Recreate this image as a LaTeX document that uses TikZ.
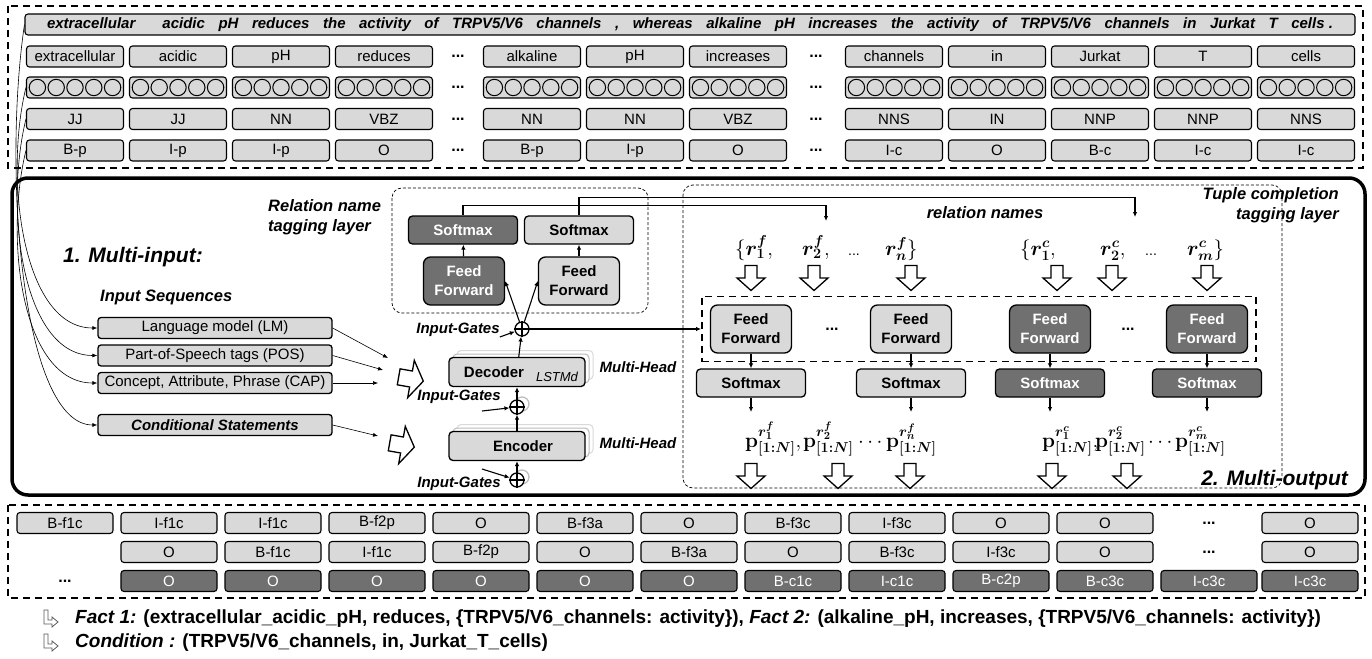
\documentclass[tikz,border=0pt]{standalone}
\usepackage[no-math]{fontspec}
\setmainfont{Liberation Sans}
\usepackage{bm}
\usetikzlibrary{arrows.meta,positioning,fit}

\definecolor{lightcell}{RGB}{217,217,217}
\definecolor{darkcell}{RGB}{112,112,112}

\tikzset{
	cell/.style={draw, line width=1.1pt, rounded corners=3pt, fill=lightcell, minimum width=97pt, minimum height=21pt, inner sep=0pt, font=\fontsize{15}{15}\selectfont},
	darkfill/.style={fill=darkcell, text=white},
	lightfill/.style={fill=lightcell},
	bitag/.style={font=\fontsize{16.5}{20}\selectfont\bfseries\itshape, inner sep=0pt},
	bigtag/.style={font=\fontsize{21}{21}\selectfont\bfseries\itshape, inner sep=0pt},
	smalltag/.style={font=\fontsize{15}{15}\selectfont\bfseries\itshape, inner sep=0pt},
	inbox/.style={draw, line width=1.3pt, rounded corners=3pt, fill=lightcell, minimum width=234pt, minimum height=21pt, inner sep=0pt, font=\fontsize{15}{15}\selectfont},
	smax/.style={draw, line width=1.3pt, rounded corners=4pt, fill=lightcell, minimum width=109pt, minimum height=28pt, inner sep=0pt, font=\fontsize{15}{15}\selectfont\bfseries},
	ff/.style={smax, minimum width=81pt, minimum height=48pt, rounded corners=7pt, align=center, font=\fontsize{15}{19}\selectfont\bfseries},
	coder/.style={smax, minimum width=136pt, minimum height=29pt},
	shade/.style={coder, draw=gray!55, fill=white, line width=1pt},
	gate/.style={draw, line width=1.3pt, circle, fill=white, minimum size=14pt, inner sep=0pt},
	dotsbold/.style={font=\fontsize{16}{16}\selectfont\bfseries, inner sep=0pt},
	rlabel/.style={font=\fontsize{22}{22}\selectfont, inner sep=0pt},
	facttext/.style={anchor=west, font=\fontsize{19}{19}\selectfont\bfseries, inner sep=0pt},
	arr/.style={line width=1.1pt, -{Latex[length=5pt,width=4.5pt]}},
	thin arr/.style={line width=0.6pt, -{Latex[length=5pt,width=4pt]}},
	outerdash/.style={line width=1.6pt, dash pattern=on 7pt off 5pt},
	layerdash/.style={line width=0.7pt, dash pattern=on 3pt off 2pt, rounded corners=10pt},
	hollow/.pic={\draw[line width=1.3pt, fill=white, line join=miter] (-6,-12.5) -- (6,-12.5) -- (6,0) -- (14,0) -- (0,12.5) -- (-14,0) -- (-6,0) -- cycle;},
	hook/.pic={\draw[line width=0.8pt, gray!70!black, line join=miter] (-6,-8) -- (-2,-8) -- (-2,2) -- (2,2) -- (2,-1) -- (8,4) -- (2,9) -- (2,6) -- (-6,6) -- cycle;}
}

\begin{document}
\begin{tikzpicture}[x=1pt, y=-1pt]
	\useasboundingbox (0,0) rectangle (1372,658);

	% sentence and token rows
	\draw[outerdash] (8,6) rectangle (1363,168);
	\node[cell, minimum width=1330pt, font=\fontsize{15}{15}\selectfont\bfseries\itshape] (sent) at (690,24.5) {\hbox to 1286pt{extracellular\hfill\hfill acidic\hfill pH\hfill reduces\hfill the\hfill activity\hfill of\hfill TRPV5/V6\hfill channels\hfill ,\hfill whereas\hfill alkaline\hfill pH\hfill increases\hfill the\hfill activity\hfill of\hfill TRPV5/V6\hfill channels\hfill in\hfill Jurkat\hfill T\hfill cells .}};
	\foreach \x/\word/\pos/\bio [count=\i] in {75/extracellular/JJ/B-p, 178/acidic/JJ/I-p, 281/pH/NN/I-p, 384/reduces/VBZ/O, 532/alkaline/NN/B-p, 635/pH/NN/I-p, 738/increases/VBZ/O, 894/channels/NNS/I-c, 997/in/IN/O, 1100/Jurkat/NNP/B-c, 1203/T/NNP/I-c, 1306/cells/NNS/I-c}{
		\node[cell] (w\i) at (\x,56.5) {\word};
		\node[cell] (e\i) at (\x,87.5) {};
		\foreach \d in {-37.6,-18.8,0,18.8,37.6}
			\draw[line width=1pt] (\x+\d,87.5) circle (8.2pt);
		\node[cell] (t\i) at (\x,119) {\pos};
		\node[cell] (b\i) at (\x,150.5) {\bio};
	}
	\foreach \x [count=\j] in {458,816}
		\foreach \y [count=\k] in {56.5,87.5,119,150.5}
			\node[dotsbold] (dots\j\k) at (\x,\y) {...};

	% multi-input side
	\draw[line width=3.5pt, rounded corners=16pt] (12,178) rectangle (1365,495);
	\node[bigtag, anchor=west] (minput) at (63,257) {1. Multi-input:};
	\node[bitag, anchor=west] (inseq) at (100,297) {Input Sequences};
	\node[inbox] (lm) at (215,328) {Language model (LM)};
	\node[inbox] (pos) at (215,355.5) {Part-of-Speech tags (POS)};
	\node[inbox] (cap) at (215,383) {Concept, Attribute, Phrase (CAP)};
	\node[inbox, font=\fontsize{15}{15}\selectfont\bfseries\itshape] (cond) at (215,425) {Conditional Statements};
	\draw[thin arr] (e1.west) .. controls +(-22,90) and +(-75,0) .. (lm.west);
	\draw[thin arr] (t1.west) .. controls +(-22,90) and +(-75,0) .. (pos.west);
	\draw[thin arr] (b1.west) .. controls +(-22,90) and +(-75,0) .. (cap.west);
	\draw[thin arr] (sent.west) .. controls +(-22,150) and +(-75,0) .. (cond.west);
	\coordinate (lmto) at (388,358);
	\coordinate (posto) at (383,370);
	\coordinate (capto) at (378,383);
	\coordinate (condto) at (378,436);
	\draw[thin arr] (lm.east) -- (lmto);
	\draw[thin arr] (pos.east) -- (posto);
	\draw[thin arr] (cap.east) -- (capto);
	\draw[thin arr] (cond.east) -- (condto);
	\pic[rotate=80, xscale=1.35] (harr1) at (411,379) {hollow};
	\pic[rotate=80, xscale=1.35] (harr2) at (402,445) {hollow};

	% encoder / decoder
	\node[shade, draw=gray!30] (decs2) at (525,365) {};
	\node[shade] (decs1) at (521,368.5) {};
	\node[coder] (dec) at (517,372) {};
	\node[font=\fontsize{15}{15}\selectfont\bfseries] (dectxt) at (494,372) {Decoder};
	\node[font=\fontsize{13}{13}\selectfont\itshape] (lstmd) at (557,377) {LSTMd};
	\node[shade, draw=gray!30] (encs2) at (525,439) {};
	\node[shade] (encs1) at (521,442.5) {};
	\node[coder] (enc) at (517,446) {\hspace{12pt}Encoder};
	\node[gate, draw=gray!50] (g2s) at (522,404) {};
	\node[gate] (g2) at (517,407) {};
	\node[gate, draw=gray!50] (g1s) at (522,477) {};
	\node[gate] (g1) at (517,480) {};
	\node[gate] (g3) at (522,329) {};
	\foreach \g in {g1,g2,g3}
		\draw[line width=1.1pt] (\g.north) -- (\g.south) (\g.west) -- (\g.east);
	\draw[arr] (g1) -- (enc);
	\draw[arr] (enc) -- (g2);
	\draw[arr] (g2) -- (dec);
	\draw[arr] (dec) -- (g3);
	\node[smalltag] (ig3) at (458,330) {Input-Gates};
	\node[smalltag] (ig2) at (459,397) {Input-Gates};
	\node[smalltag] (ig1) at (459,484) {Input-Gates};
	\coordinate (ig2a) at (482,411);
	\coordinate (ig1a) at (482,469);
	\draw[arr] (ig3.south east) -- (g3);
	\draw[arr] (ig2a) -- (g2);
	\draw[arr] (ig1a) -- (g1);
	\node[smalltag] (mh1) at (638,367) {Multi-Head};
	\node[smalltag] (mh2) at (638,443) {Multi-Head};

	% relation name tagging layer
	\draw[layerdash] (392,188) rectangle (648,313);
	\node[bitag, anchor=west, align=left] (rellbl) at (268,217) {Relation name\\tagging layer};
	\node[smax, darkfill] (rsd) at (463,230) {Softmax};
	\node[smax] (rsl) at (579,230) {Softmax};
	\node[ff, darkfill] (rfd) at (464,281) {Feed\\Forward};
	\node[ff] (rfl) at (579,281) {Feed\\Forward};
	\draw[arr] (g3) -- (rfd.east);
	\draw[arr] (g3) -- (rfl.west);
	\draw[arr] (rfd) -- (rsd);
	\draw[arr] (rfl) -- (rsl);
	\coordinate (rfin) at (826,221);
	\coordinate (rcin) at (1135,217);
	\draw[arr] (rsd.north) -- ++(0,-9.5) -| (rfin);
	\draw[arr] (rsl.north) -- ++(0,-17.5) -| (rcin);

	% tuple completion tagging layer
	\draw[layerdash] (683,185) rectangle (1282,488);
	\node[bitag, anchor=east, align=right] (tuplbl) at (1339,205) {Tuple completion\\tagging layer};
	\node[bitag] (rnames) at (985,213) {relation names};
	\node[rlabel, anchor=base west] (rf1) at (735,255) {$\{\bm{r}^{\bm{f}}_{\bm{1}},$};
	\node[rlabel, anchor=base west] (rf2) at (802,255) {$\bm{r}^{\bm{f}}_{\bm{2}},$};
	\node[rlabel, anchor=base west] (rfd) at (848,255) {\fontsize{14}{14}\selectfont ...};
	\node[rlabel, anchor=base west] (rfn) at (885,255) {$\bm{r}^{\bm{f}}_{\bm{n}}\}$};
	\node[rlabel, anchor=base west] (rc1) at (1020,255) {$\{\bm{r}^{\bm{c}}_{\bm{1}},$};
	\node[rlabel, anchor=base west] (rc2) at (1100,255) {$\bm{r}^{\bm{c}}_{\bm{2}},$};
	\node[rlabel, anchor=base west] (rcd) at (1145,255) {\fontsize{14}{14}\selectfont ...};
	\node[rlabel, anchor=base west] (rcm) at (1187,255) {$\bm{r}^{\bm{c}}_{\bm{m}}\}$};
	\foreach \x [count=\i] in {751,814,911,1057,1112,1207}
		\pic (ra\i) at (\x,278) {hollow};
	\foreach \x/\sty [count=\i] in {751/lightfill, 911/lightfill, 1050/darkfill, 1207/darkfill}{
		\node[ff, \sty] (f\i) at (\x,329) {Feed\\Forward};
		\node[smax, \sty] (s\i) at (\x,383) {Softmax};
		\coordinate (o\i) at (\x,412);
		\draw[arr] (f\i) -- (s\i);
		\draw[arr] (s\i) -- (o\i);
	}
	\node[draw, outerdash, fit=(f1)(f4), inner xsep=8pt, inner ysep=8pt] (grp) {};
	\node[dotsbold] (fdots1) at (832,329) {...};
	\node[dotsbold] (fdots2) at (1128,329) {...};
	\draw[arr] (g3) -- (grp.west);
	\node[rlabel, anchor=base west] (pf1) at (745,447) {$\mathbf{p}^{\bm{r}^{\bm{f}}_{\bm{1}}}_{\bm{[1:N]}},$};
	\node[rlabel, anchor=base west] (pf2) at (803,447) {$\mathbf{p}^{\bm{r}^{\bm{f}}_{\bm{2}}}_{\bm{[1:N]}}$};
	\node[rlabel, anchor=base west] (pfd) at (858,447) {$\cdots$};
	\node[rlabel, anchor=base west] (pfn) at (886,447) {$\mathbf{p}^{\bm{r}^{\bm{f}}_{\bm{n}}}_{\bm{[1:N]}}$};
	\node[rlabel, anchor=base west] (pc1) at (1042,447) {$\mathbf{p}^{\bm{r}^{\bm{c}}_{\bm{1}}}_{\bm{[1:N]}},$};
	\node[rlabel, anchor=base west] (pc2) at (1095,447) {$\mathbf{p}^{\bm{r}^{\bm{c}}_{\bm{2}}}_{\bm{[1:N]}}$};
	\node[rlabel, anchor=base west] (pcd) at (1148,447) {$\cdots$};
	\node[rlabel, anchor=base west] (pcm) at (1175,447) {$\mathbf{p}^{\bm{r}^{\bm{c}}_{\bm{m}}}_{\bm{[1:N]}}$};
	\foreach \x [count=\i] in {751,838,910,1052,1127}
		\pic (pa\i) at (\x,476) {hollow};
	\node[bigtag, anchor=east] (moutput) at (1348,480) {2. Multi-output};

	% output tag sequences
	\draw[outerdash] (8,505) rectangle (1365,598);
	\foreach \x/\lab [count=\i] in {65/B-f1c, 169/I-f1c, 273/I-f1c, 377/B-f2p, 481/O, 585/B-f3a, 689/O, 793/B-f3c, 897/I-f3c, 1001/O, 1105/O, 1310/O}
		\node[cell, minimum width=96pt] (ya\i) at (\x,523) {\lab};
	\foreach \x/\lab [count=\i] in {169/O, 273/B-f1c, 377/I-f1c, 481/B-f2p, 585/O, 689/B-f3a, 793/O, 897/B-f3c, 1001/I-f3c, 1105/O, 1310/O}
		\node[cell, minimum width=96pt] (yb\i) at (\x,552) {\lab};
	\foreach \x/\lab [count=\i] in {169/O, 273/O, 377/O, 481/O, 585/O, 689/O, 793/B-c1c, 897/I-c1c, 1001/B-c2p, 1105/B-c3c, 1209/I-c3c, 1310/I-c3c}
		\node[cell, darkfill, minimum width=96pt] (yc\i) at (\x,581) {\lab};
	\node[dotsbold] (ydots1) at (1209,523) {...};
	\node[dotsbold] (ydots2) at (1209,552) {...};
	\node[dotsbold] (ydots3) at (65,581) {...};

	% extracted tuples
	\pic (hk1) at (50,618) {hook};
	\pic (hk2) at (50,642) {hook};
	\node[facttext] (facts) at (75,619) {\textit{Fact 1:} (extracellular\_acidic\_pH, reduces, \{TRPV5/V6\_channels: activity\}), \textit{Fact 2:} (alkaline\_pH, increases, \{TRPV5/V6\_channels: activity\})};
	\node[facttext] (condtxt) at (75,643) {\textit{Condition :} (TRPV5/V6\_channels, in, Jurkat\_T\_cells)};
\end{tikzpicture}
\end{document}
